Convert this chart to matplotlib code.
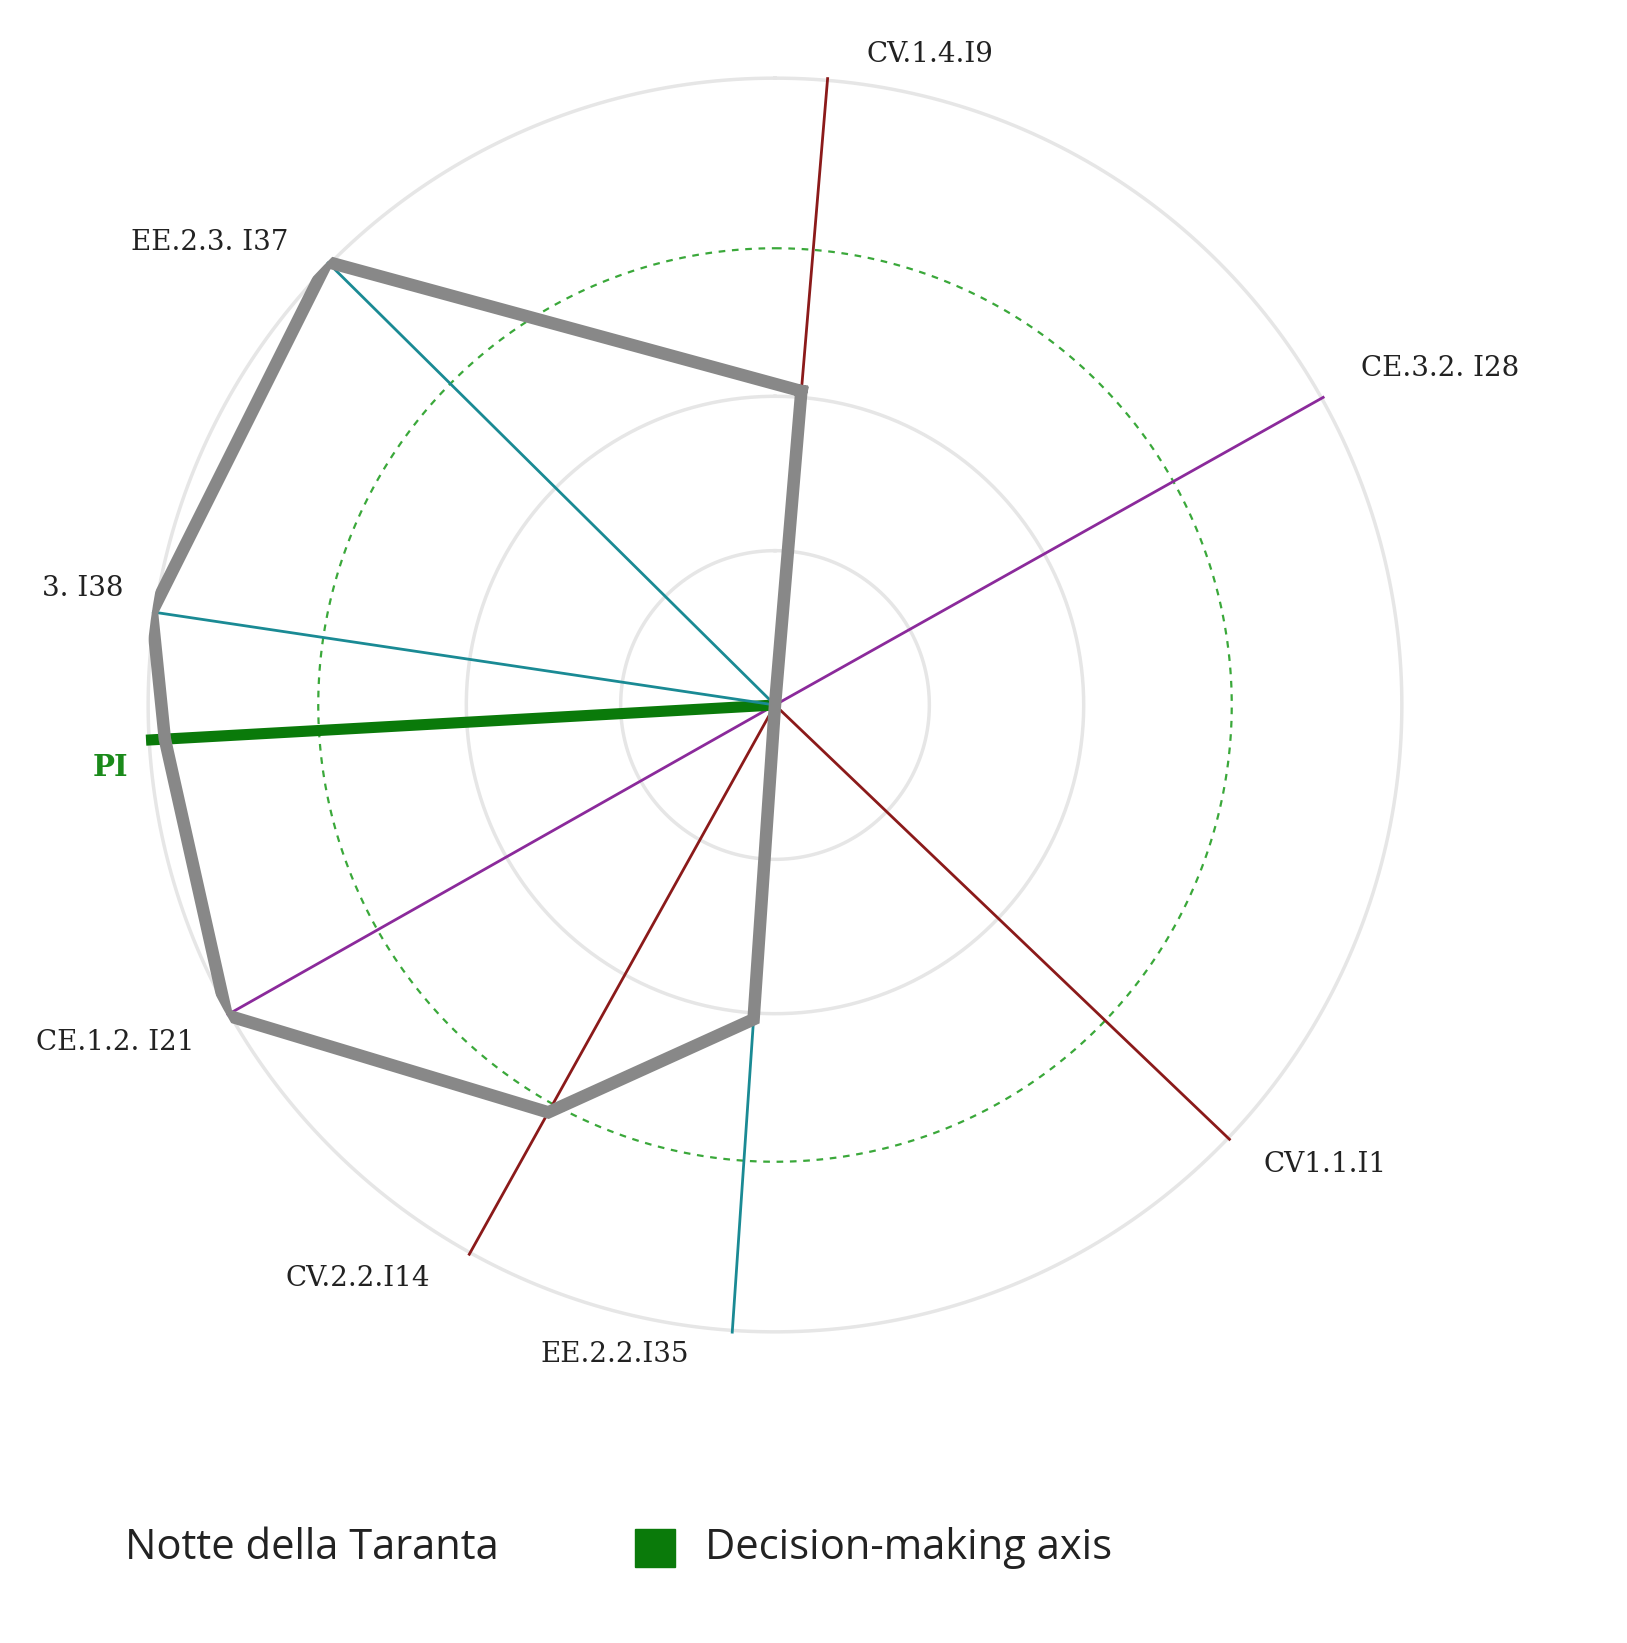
import numpy as np
from matplotlib import pyplot as plt

# axes: name, angle (deg clockwise from north), value, colour
names = ['CV.1.4.I9', 'CE.3.2. I28', 'CV1.1.I1', 'EE.2.2.I35', 'CV.2.2.I14',
         'CE.1.2. I21', 'PI', '3. I38', 'EE.2.3. I37']
angles = [4.8, 60.7, 133.7, 183.9, 209.1, 240.5, 266.8, 278.5, 314.7]
values = [0.5, 0.0, 0.0, 0.5, 0.74, 1.0, 0.97, 1.0, 1.0]
colors = ['#8b1a1a', '#8b2a9b', '#8b1a1a', '#1a8a94', '#8b1a1a',
          '#8b2a9b', '#0a7a0a', '#1a8a94', '#1a8a94']
label_px = [(930, 55), (1440, 368), (1325, 1165), (615, 1355), (358, 1278),
            (115, 1042), (110, 768), (83, 588), (210, 242)]

W, H = 1627, 1643
fig = plt.figure(figsize=(W/100, H/100), dpi=100)
cx, cy, R = 775, 705, 630
ax = fig.add_axes([(cx-R)/W, (H-cy-R)/H, 2*R/W, 2*R/H], projection='polar')
ax.set_theta_zero_location('N')
ax.set_theta_direction(-1)
ax.set_ylim(0, 1)
ax.set_xticks([])
ax.set_yticks([])
ax.grid(False)
ax.spines['polar'].set_visible(False)

t = np.linspace(0, 2*np.pi, 400)
for r in [0.245, 0.49, 0.995]:
    ax.plot(t, np.full_like(t, r), color='#e6e6e6', lw=2.5, zorder=1)
ax.plot(t, np.full_like(t, 0.725), color='#3aa83a', lw=1.6, ls=(0, (3, 3)), zorder=2)

th = np.radians(angles)
for a, c, n in zip(th, colors, names):
    lw = 8 if n == 'PI' else 2
    ax.plot([a, a], [0, 1], color=c, lw=lw, zorder=3)

ax.plot(np.append(th, th[0]), values + values[:1], color='#888888', lw=9,
        solid_joinstyle='miter', zorder=4)

for n, (px, py) in zip(names, label_px):
    if n == 'PI':
        fig.text(px/W, 1-py/H, n, color='#1a8a1a', fontsize=21, fontweight='bold',
                 family='DejaVu Serif', ha='center', va='center')
    else:
        fig.text(px/W, 1-py/H, n, color='#222222', fontsize=20,
                 family='DejaVu Serif', ha='center', va='center')

fig.text(125/W, 1-1548/H, 'Notte della Taranta', fontsize=30, color='#222222',
         family='Open Sans', va='center')
fig.patches.append(plt.Rectangle((635/W, 1-1567/H), 40/W, 38/H, color='#0a7a0a',
                                 transform=fig.transFigure))
fig.text(705/W, 1-1548/H, 'Decision-making axis', fontsize=30, color='#222222',
         family='Open Sans', va='center')

plt.savefig('out.png', dpi=100)
